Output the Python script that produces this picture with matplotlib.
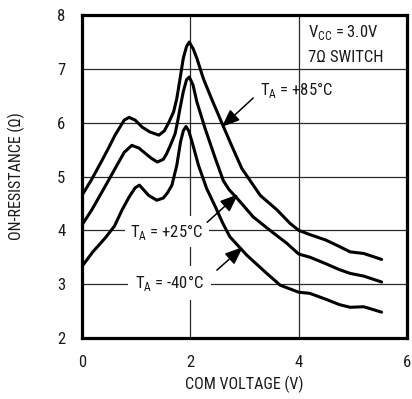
import matplotlib
matplotlib.use("Agg")
import matplotlib.pyplot as plt
from matplotlib import font_manager as fm

# ---- data ----
x_85 = [0, 0.18, 0.37, 0.5, 0.61, 0.78, 0.87, 0.98, 1.11, 1.25, 1.42, 1.52, 1.6, 1.69, 1.75, 1.81,
        1.87, 1.93, 1.98, 2.05, 2.12, 2.24, 2.39, 2.58, 2.76, 2.95, 3.12, 3.29, 3.6, 3.84, 4.0,
        4.21, 4.5, 4.75, 4.95, 5.2, 5.53]
y_85 = [4.65, 4.95, 5.3, 5.55, 5.77, 6.05, 6.1, 6.05, 5.92, 5.83, 5.77, 5.85, 6.0, 6.2, 6.45, 6.82,
        7.2, 7.42, 7.5, 7.38, 7.2, 6.82, 6.45, 6.0, 5.58, 5.15, 4.9, 4.65, 4.38, 4.13, 4.0,
        3.92, 3.82, 3.7, 3.6, 3.57, 3.46]

x_25 = [0, 0.18, 0.35, 0.49, 0.65, 0.78, 0.92, 1.05, 1.17, 1.28, 1.39, 1.5, 1.56, 1.64, 1.72, 1.77,
        1.81, 1.87, 1.93, 1.98, 2.05, 2.12, 2.27, 2.46, 2.61, 2.72, 2.86, 3.16, 3.47, 3.78, 4.0,
        4.21, 4.5, 4.75, 4.95, 5.2, 5.53]
y_25 = [4.1, 4.38, 4.68, 4.93, 5.22, 5.45, 5.58, 5.53, 5.43, 5.34, 5.27, 5.32, 5.42, 5.6, 5.8, 6.05,
        6.27, 6.58, 6.8, 6.85, 6.7, 6.39, 5.9, 5.34, 4.92, 4.75, 4.6, 4.25, 4.0, 3.76, 3.56,
        3.5, 3.38, 3.27, 3.2, 3.15, 3.04]

x_m40 = [0, 0.2, 0.43, 0.6, 0.74, 0.87, 0.98, 1.06, 1.23, 1.38, 1.5, 1.58, 1.66, 1.75, 1.82, 1.87,
         1.92, 1.97, 2.03, 2.15, 2.3, 2.47, 2.6, 2.73, 3.04, 3.41, 3.66, 4.0, 4.2, 4.5, 4.75,
         4.95, 5.2, 5.53]
y_m40 = [3.33, 3.6, 3.86, 4.08, 4.38, 4.62, 4.79, 4.84, 4.65, 4.56, 4.6, 4.7, 4.84, 5.21, 5.65, 5.85,
         5.93, 5.85, 5.65, 5.21, 4.78, 4.42, 4.13, 3.88, 3.54, 3.2, 2.98, 2.85, 2.83, 2.72, 2.62,
         2.57, 2.58, 2.48]

x_ticks = [0, 2, 4, 6]
y_ticks = [2, 3, 4, 5, 6, 7, 8]


def pick_font():
    pref_names = ['Liberation Sans Narrow', 'Roboto Condensed', 'Noto Sans Condensed',
                  'Open Sans Condensed', 'Noto Sans Display Condensed']
    fl = fm.fontManager.ttflist
    for n in pref_names:
        for f in fl:
            if f.name == n and f.style == 'normal' and f.weight in (400, 'normal', 'regular'):
                return f.fname
    for f in fl:
        if f.name.startswith('Noto Sans') and 'CJK' not in f.name and f.style == 'normal' \
                and str(f.stretch) in ('condensed', 'semi-condensed', '87.5', '75') \
                and f.weight in (400, 'normal', 'regular'):
            return f.fname
    for f in fl:
        if f.name == 'Roboto' and f.style == 'normal' and f.weight in (400, 'normal', 'regular'):
            return f.fname
    return None


fpath = pick_font()
def fp(size):
    if fpath:
        return fm.FontProperties(fname=fpath, size=size)
    return fm.FontProperties(family='DejaVu Sans', size=size)

TXT = '#1a1a1a'
fig = plt.figure(figsize=(4.12, 3.99), dpi=100)
ax = fig.add_axes([0.199, 0.153, 0.789, 0.809])

ax.set_xlim(0, 6)
ax.set_ylim(2, 8)
ax.set_xticks(x_ticks)
ax.set_yticks(y_ticks)
ax.tick_params(length=0, pad=12, colors=TXT)
for lab in ax.get_xticklabels() + ax.get_yticklabels():
    lab.set_fontproperties(fp(12))
ax.grid(True, color='#2a2a2a', linewidth=0.9)
ax.set_axisbelow(True)
for s in ax.spines.values():
    s.set_linewidth(2.3)
    s.set_color('black')

for xs, ys in [(x_85, y_85), (x_25, y_25), (x_m40, y_m40)]:
    ax.plot(xs, ys, color='black', linewidth=2.2, solid_joinstyle='round',
            solid_capstyle='round', zorder=3)

ax.set_xlabel('COM VOLTAGE (V)', fontproperties=fp(11.5), color=TXT)
ax.set_ylabel('ON-RESISTANCE (Ω)', fontproperties=fp(11.5), color=TXT)
ax.xaxis.set_label_coords(0.5, -0.118)
ax.yaxis.set_label_coords(-0.175, 0.5)

ax.text(4.17, 7.6, 'V$_\\mathregular{CC}$ = 3.0V', fontproperties=fp(12), va='baseline', ha='left', color=TXT)
ax.text(4.17, 7.13, '7Ω SWITCH', fontproperties=fp(12), va='baseline', ha='left', color=TXT)

arrow = dict(arrowstyle='-|>,head_length=0.55,head_width=0.22', color='black', lw=1.1,
             mutation_scale=20, shrinkA=0, shrinkB=0)
ax.annotate('', xy=(2.58, 5.92), xytext=(3.16, 6.46), arrowprops=arrow, zorder=4)
ax.text(3.29, 6.51, 'T$_\\mathregular{A}$ = +85°C', fontproperties=fp(12), va='baseline', ha='left', color=TXT)

ax.annotate('', xy=(2.88, 4.67), xytext=(2.31, 4.15), arrowprops=arrow, zorder=4)
ax.text(0.89, 3.88, 'T$_\\mathregular{A}$ = +25°C', fontproperties=fp(12), va='baseline', ha='left', color=TXT,
        bbox=dict(facecolor='white', edgecolor='none', pad=4), zorder=2)

ax.annotate('', xy=(2.97, 3.69), xytext=(2.49, 3.26), arrowprops=arrow, zorder=4)
ax.text(0.98, 2.93, 'T$_\\mathregular{A}$ = -40°C', fontproperties=fp(12), va='baseline', ha='left', color=TXT,
        bbox=dict(facecolor='white', edgecolor='none', pad=5), zorder=2)

fig.savefig('out.png', dpi=100)
